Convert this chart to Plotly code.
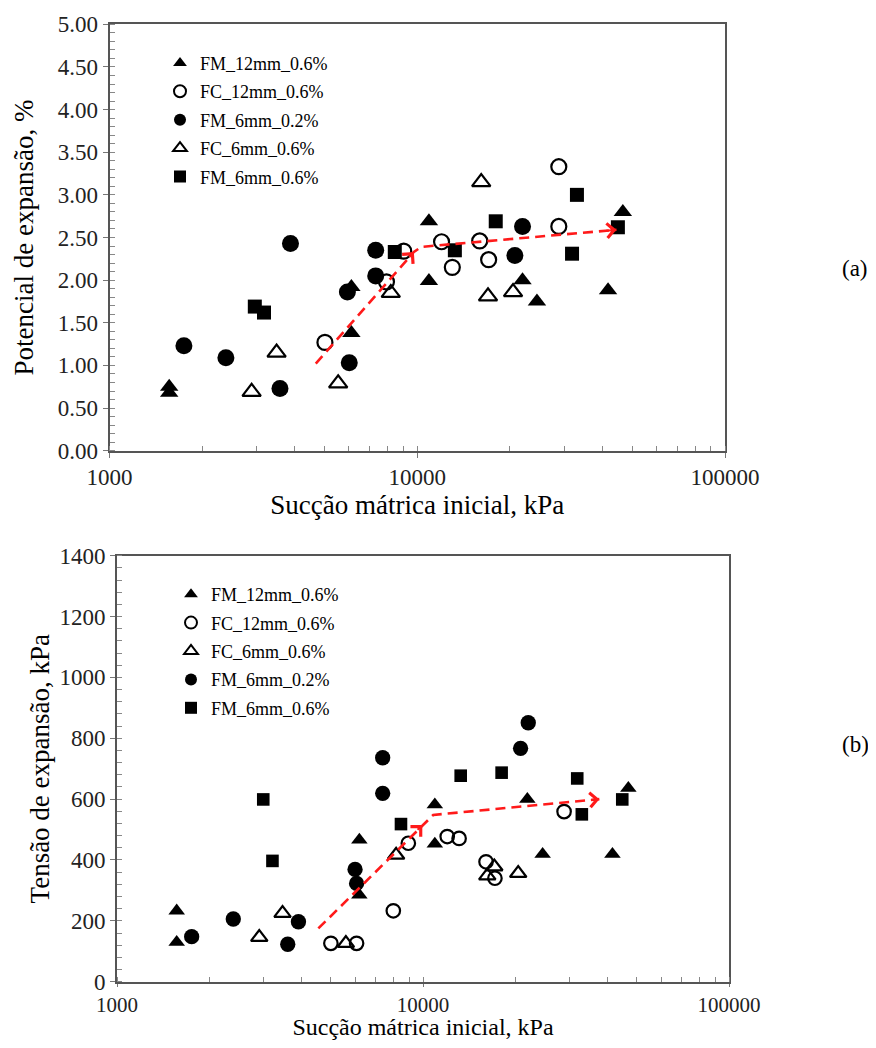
import numpy as np
import plotly.graph_objects as go

# ---------------- Data: panel (a) Potencial de expansão (%) ----------------
a_fm12_x = [1563, 1563, 6109, 6109, 10913, 10913, 21980, 24490, 41690, 46560]
a_fm12_y = [0.75, 0.68, 1.38, 1.92, 2.69, 1.99, 2.00, 1.75, 1.88, 2.80]

a_fc12_x = [5012, 7943, 9036, 11995, 13000, 15960, 17060, 28840, 28840]
a_fc12_y = [1.27, 1.98, 2.34, 2.45, 2.15, 2.46, 2.24, 3.33, 2.63]

a_fm6_02_x = [1745, 2389, 3580, 3873, 5930, 6013, 7328, 7328, 20760, 21980]
a_fm6_02_y = [1.23, 1.09, 0.73, 2.43, 1.86, 1.03, 2.35, 2.05, 2.29, 2.63]

a_fc6_x = [2896, 3491, 5534, 8204, 16140, 16980, 20480]
a_fc6_y = [0.69, 1.15, 0.79, 1.85, 3.15, 1.81, 1.86]

a_fm6_06_x = [2966, 3177, 8453, 13250, 17990, 31840, 33030, 44870]
a_fm6_06_y = [1.69, 1.62, 2.33, 2.35, 2.69, 2.31, 3.00, 2.62]

a_trend_x = [4680, 9750, 10300, 44400]
a_trend_y = [1.02, 2.33, 2.39, 2.59]

# ---------------- Data: panel (b) Tensão de expansão (kPa) ----------------
b_fm12_x = [1567, 1567, 6195, 6195, 10930, 10930, 21930, 24600, 41600, 46890]
b_fm12_y = [233, 130, 466, 285, 582, 453, 600, 419, 419, 636]

b_fc12_x = [5000, 6066, 7998, 8954, 12000, 13120, 16070, 17180, 28910]
b_fc12_y = [126, 126, 233, 455, 477, 471, 394, 340, 559]

b_fc6_x = [2917, 3475, 5597, 8168, 16220, 17100, 20470]
b_fc6_y = [146, 225, 126, 416, 348, 378, 356]

b_fm6_02_x = [1754, 2399, 3614, 3917, 5997, 6066, 7383, 7383, 20840, 22080]
b_fm6_02_y = [148, 206, 123, 197, 369, 323, 736, 619, 767, 851]

b_fm6_06_x = [3006, 3221, 8473, 13280, 18070, 31920, 33040, 44790]
b_fm6_06_y = [599, 397, 518, 677, 687, 668, 550, 599]

b_trend_x = [4550, 9950, 10800, 37700]
b_trend_y = [175, 515, 548, 600]

x_tickvals = [1000, 10000, 100000]
x_ticktext = ["1000", "10000", "100000"]
a_yticks = [0, 0.5, 1.0, 1.5, 2.0, 2.5, 3.0, 3.5, 4.0, 4.5, 5.0]
b_yticks = [0, 200, 400, 600, 800, 1000, 1200, 1400]

names = {
    "fm12": "FM_12mm_0.6%",
    "fc12": "FC_12mm_0.6%",
    "fm6_02": "FM_6mm_0.2%",
    "fc6": "FC_6mm_0.6%",
    "fm6_06": "FM_6mm_0.6%",
}

# page is 876x1048; the html body has an 8px margin
OFF = 8
FW, FH = 860, 1032
FONT = "Liberation Serif"


def dx(px):
    return (px - OFF) / FW


def dy(py):
    return 1 - (py - OFF) / FH


styles = {
    "fm12": dict(symbol="triangle-up", size=16, color="black"),
    "fc12": dict(symbol="circle-open", size=15, color="black", line=dict(width=2.2, color="black")),
    "fm6_02": dict(symbol="circle", size=17, color="black"),
    "fc6": dict(symbol="triangle-up-open", size=16, color="black", line=dict(width=2.2, color="black")),
    "fm6_06": dict(symbol="square", size=14, color="black"),
}

fig = go.Figure()


def add_series(key, xs, ys, xaxis, yaxis, legend, scale=1.0):
    st = dict(styles[key])
    st["size"] = st["size"] * scale
    fig.add_trace(go.Scatter(
        x=xs, y=ys, mode="markers", name=names[key], marker=st,
        xaxis=xaxis, yaxis=yaxis, legend=legend,
        legendgroup=legend + key, cliponaxis=False,
    ))


# panel (a) order
add_series("fm12", a_fm12_x, a_fm12_y, "x", "y", "legend")
add_series("fc12", a_fc12_x, a_fc12_y, "x", "y", "legend")
add_series("fm6_02", a_fm6_02_x, a_fm6_02_y, "x", "y", "legend")
add_series("fc6", a_fc6_x, a_fc6_y, "x", "y", "legend")
add_series("fm6_06", a_fm6_06_x, a_fm6_06_y, "x", "y", "legend")

# panel (b) order
add_series("fm12", b_fm12_x, b_fm12_y, "x2", "y2", "legend2", 0.9)
add_series("fc12", b_fc12_x, b_fc12_y, "x2", "y2", "legend2", 0.9)
add_series("fc6", b_fc6_x, b_fc6_y, "x2", "y2", "legend2", 0.9)
add_series("fm6_02", b_fm6_02_x, b_fm6_02_y, "x2", "y2", "legend2", 0.9)
add_series("fm6_06", b_fm6_06_x, b_fm6_06_y, "x2", "y2", "legend2", 0.9)

# trend arrows (dashed red)
for tx, ty, xa, ya in [(a_trend_x, a_trend_y, "x", "y"), (b_trend_x, b_trend_y, "x2", "y2")]:
    fig.add_trace(go.Scatter(
        x=tx, y=ty, mode="lines", showlegend=False, hoverinfo="skip",
        line=dict(color="#ff1a1a", width=2.6, dash="10px,6px"),
        xaxis=xa, yaxis=ya,
    ))
    for i_from, i_to in [(0, 1), (2, 3)]:
        lx0, lx1 = np.log10(tx[i_from]), np.log10(tx[i_to])
        y0, y1 = ty[i_from], ty[i_to]
        f = 0.06
        fig.add_annotation(
            x=lx1, y=y1, ax=lx1 - f * (lx1 - lx0), ay=y1 - f * (y1 - y0),
            xref=xa, yref=ya, axref=xa, ayref=ya, text="", showarrow=True,
            arrowhead=4, arrowsize=1.4, arrowwidth=2, arrowcolor="#ff1a1a", standoff=0,
        )

axis_common = dict(
    showline=True, linecolor="#555555", linewidth=2, mirror=True,
    showgrid=False, zeroline=False, automargin=False,
    ticks="outside", ticklen=5, tickcolor="#777777", tickwidth=1,
    tickfont=dict(family=FONT, size=23, color="#222222"),
)

TITLE_FONT = dict(family=FONT, size=27, color="black")

bottom_x_common = dict(axis_common)
bottom_x_common["ticklen"] = 3
bottom_x_common["tickfont"] = dict(family=FONT, size=21, color="#222222")

fig.update_layout(
    width=FW, height=FH,
    margin=dict(l=0, r=0, t=0, b=0),
    paper_bgcolor="white", plot_bgcolor="white",
    font=dict(family=FONT, color="black"),
    showlegend=True,
    xaxis=dict(
        domain=[dx(109.5), dx(725)], anchor="y", type="log", range=[3, 5],
        tickvals=x_tickvals, ticktext=x_ticktext,
        minor=dict(ticks="inside", ticklen=5, tickcolor="#888888", dtick="D1", showgrid=False),
        title=dict(text="Sucção mátrica inicial, kPa", font=TITLE_FONT, standoff=4),
        **axis_common,
    ),
    yaxis=dict(
        domain=[dy(450.7), dy(24.3)], anchor="x", range=[0, 5],
        tickvals=a_yticks, tickformat=".2f",
        minor=dict(ticks="inside", ticklen=5, tickcolor="#888888", dtick=0.1, showgrid=False),
        title=dict(text="Potencial de expansão, %", font=TITLE_FONT, standoff=16),
        **axis_common,
    ),
    xaxis2=dict(
        domain=[dx(117), dx(729)], anchor="y2", type="log", range=[3, 5],
        tickvals=x_tickvals, ticktext=x_ticktext,
        minor=dict(ticks="inside", ticklen=5, tickcolor="#888888", dtick="D1", showgrid=False),
        title=dict(text="Sucção mátrica inicial, kPa", font=dict(family=FONT, size=24, color="black"), standoff=0),
        **bottom_x_common,
    ),
    yaxis2=dict(
        domain=[dy(981.7), dy(555.7)], anchor="x2", range=[0, 1400],
        tickvals=b_yticks,
        minor=dict(ticks="inside", ticklen=5, tickcolor="#888888", dtick=40, showgrid=False),
        title=dict(text="Tensão de expansão, kPa", font=TITLE_FONT, standoff=2),
        **axis_common,
    ),
    legend=dict(
        x=dx(160), y=dy(44.7), xanchor="left", yanchor="top",
        bgcolor="rgba(0,0,0,0)", font=dict(family=FONT, size=18, color="black"),
        itemsizing="constant", tracegroupgap=2, itemwidth=30,
    ),
    legend2=dict(
        x=dx(171), y=dy(576), xanchor="left", yanchor="top",
        bgcolor="rgba(0,0,0,0)", font=dict(family=FONT, size=18, color="black"),
        itemsizing="constant", tracegroupgap=2, itemwidth=30,
    ),
)

fig.add_annotation(x=dx(855), y=dy(268), xref="paper", yref="paper", text="(a)",
                   xanchor="center", yanchor="middle",
                   showarrow=False, font=dict(family=FONT, size=23, color="black"))
fig.add_annotation(x=dx(855), y=dy(744), xref="paper", yref="paper", text="(b)",
                   xanchor="center", yanchor="middle",
                   showarrow=False, font=dict(family=FONT, size=23, color="black"))

fig.write_html("out.html")
